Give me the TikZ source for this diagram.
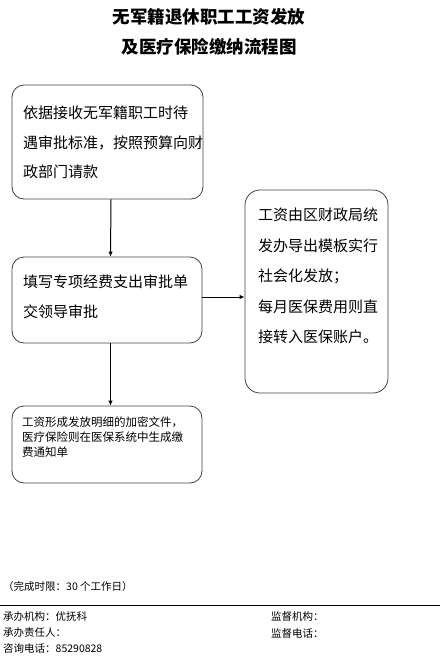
\documentclass[tikz,border=0pt]{standalone}
\usepackage{fontspec}
\newfontfamily\cjk{Noto Sans CJK SC}
\usetikzlibrary{arrows.meta}
\tikzset{
  box/.style={draw=black!75, line width=0.8pt, rounded corners=12pt, inner sep=0pt},
  txt/.style={anchor=west, align=left, inner sep=0pt, text=black},
  arr/.style={draw=black, line width=1pt, -{Latex[length=5pt,width=4.5pt]}},
  foot/.style={anchor=west, inner sep=0pt, font=\cjk\fontsize{10.5}{12}\selectfont}
}
\begin{document}
\begin{tikzpicture}[x=1pt,y=-1pt]
\useasboundingbox (0,0) rectangle (440,659);
% title
\node[inner sep=0pt, font=\cjk\bfseries\fontsize{17.5}{20}\selectfont] (title1) at (209,17) {无军籍退休职工工资发放};
\node[inner sep=0pt, font=\cjk\bfseries\fontsize{17.5}{20}\selectfont] (title2) at (209,47) {及医疗保险缴纳流程图};
% boxes
\node[box, minimum width=191pt, minimum height=114pt] (b1) at (107.5,142) {};
\node[txt, font=\cjk\fontsize{15}{29.5}\selectfont] (t1) at (23,142.5) {依据接收无军籍职工时待\\遇审批标准，按照预算向财\\政部门请款};
\node[box, minimum width=190pt, minimum height=86pt] (b2) at (107,300) {};
\node[txt, font=\cjk\fontsize{15}{30}\selectfont] (t2) at (23,297) {填写专项经费支出审批单\\交领导审批};
\node[box, rounded corners=15pt, minimum width=143pt, minimum height=203pt] (b3) at (316.5,291.5) {};
\node[txt, font=\cjk\fontsize{15}{30.4}\selectfont] (t3) at (258,276) {工资由区财政局统\\发办导出模板实行\\社会化发放；\\每月医保费用则直\\接转入医保账户。};
\node[box, minimum width=190pt, minimum height=77pt] (b4) at (107,444.5) {};
\node[txt, font=\cjk\fontsize{11.5}{15}\selectfont] (t4) at (22,436.7) {工资形成发放明细的加密文件，\\医疗保险则在医保系统中生成缴\\费通知单};
% connectors
\draw[arr] ([xshift=3.5pt]b1.south) -- ([xshift=3.5pt]b2.north);
\draw[arr] ([xshift=3.5pt]b2.south) -- ([xshift=3.5pt]b4.north);
\draw[arr] ([yshift=3pt]b2.east) -- ([yshift=3pt]b2.east -| b3.west);
% footer
\node[foot] (limit) at (3,587) {（完成时限：30 个工作日）};
\coordinate (hl) at (0,605);
\coordinate (hr) at (440,605);
\draw[line width=0.8pt] (hl) -- (hr);
\node[foot] (f1) at (3,617) {承办机构：优抚科};
\node[foot] (f2) at (3,633) {承办责任人：};
\node[foot] (f3) at (3,649) {咨询电话：85290828};
\node[foot] (f4) at (271,617) {监督机构：};
\node[foot] (f5) at (271,633) {监督电话：};
\end{tikzpicture}
\end{document}
